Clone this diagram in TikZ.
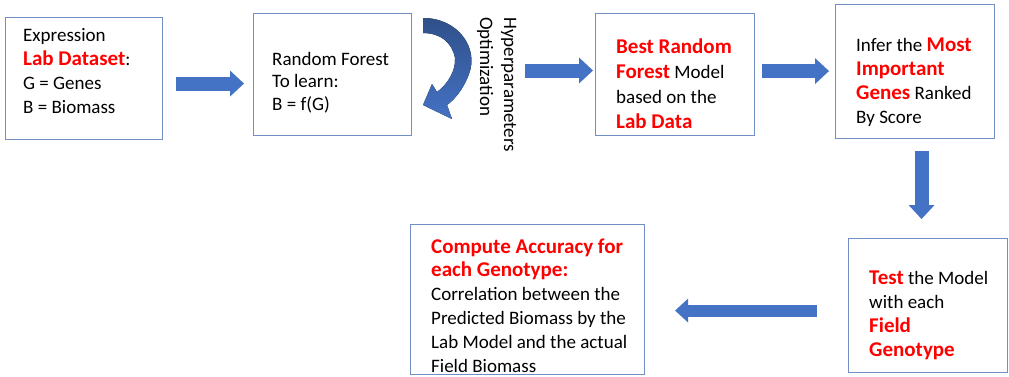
\documentclass[tikz,border=0pt]{standalone}
\usepackage{fontspec}
\setmainfont{Carlito}
\usepackage{xcolor}
\usetikzlibrary{arrows.meta, positioning, calc}
\definecolor{boxline}{RGB}{114,143,196}
\definecolor{arrowblue}{RGB}{68,114,196}
\definecolor{hlred}{RGB}{255,0,0}
\newcommand{\redbf}[1]{{\fontsize{21}{\baselineskip}\selectfont\bfseries\color{hlred}#1}}

\begin{document}
\begin{tikzpicture}[x=1pt, y=-1pt,
		box/.style={draw=boxline, line width=1.1pt, rectangle, inner sep=0pt, anchor=north west},
		boxtext/.style={align=left, inner sep=0pt, anchor=base west, font=\fontsize{19}{24}\selectfont},
		blockarr/.style={draw=arrowblue, line width=14pt, -{Triangle[width=26pt, length=14pt, line width=0pt]}}]
		
		\useasboundingbox (0,0) rectangle (1009,376);
		
		% Boxes
		\node[box, minimum width=157pt, minimum height=122pt] (lab) at (5,17) {};
		\node[box, minimum width=158pt, minimum height=122pt] (rf) at (253,13) {};
		\node[box, minimum width=159pt, minimum height=122pt] (best) at (595,13) {};
		\node[box, minimum width=159pt, minimum height=134pt] (infer) at (835,4) {};
		\node[box, minimum width=159pt, minimum height=134pt] (test) at (848,238) {};
		\node[box, minimum width=234pt, minimum height=150pt] (acc) at (410,224) {};
		
		% Texts inside the boxes (placed at the baseline of their last line)
		\node[boxtext] (labtxt) at (23,113) {Expression\\ \redbf{Lab Dataset}:\\ G = Genes\\ B = Biomass};
		\node[boxtext, font=\fontsize{19}{22.5}\selectfont] (rftxt) at (272,110) {Random Forest\\ To learn:\\ B = f(G)};
		\node[boxtext, font=\fontsize{19}{25}\selectfont] (besttxt) at (616,128) {\redbf{Best Random}\\ \redbf{Forest} Model\\ based on the\\ \redbf{Lab Data}};
		\node[boxtext] (infertxt) at (856,123) {Infer the \redbf{Most}\\ \redbf{Important}\\ \redbf{Genes} Ranked\\ By Score};
		\node[boxtext] (testtxt) at (869,356) {\redbf{Test} the Model\\ with each\\ \redbf{Field}\\ \redbf{Genotype}};
		\node[boxtext, font=\fontsize{19}{23.8}\selectfont] (acctxt) at (431,372) {\redbf{Compute Accuracy for}\\ \redbf{each Genotype:}\\ Correlation between the\\ Predicted Biomass by the\\ Lab Model and the actual\\ Field Biomass};
		
		% Optimization loop
		\fill[top color=arrowblue!70!black, bottom color=arrowblue]
		(423,18) .. controls (458,18) and (479,48) .. (469,74)
		.. controls (463,90) and (454,100) .. (447,105)
		-- (452,119) -- (423,105) -- (432,84) -- (437,92)
		.. controls (448,84) and (456,70) .. (455,58)
		.. controls (452,42) and (440,33) .. (423,33) -- cycle;
		\node[boxtext, rotate=-90] (hyper) at (480,17) {Hyperparameters\\ Optimization};
		
		% Block arrows
		\coordinate (optout) at (525,70.5);
		\draw[blockarr] ([xshift=13pt,yshift=-5pt]lab.east) -- ([xshift=-9pt,yshift=-5pt]lab.east -| rf.west);
		\draw[blockarr] (optout) -- ([xshift=-2pt]optout -| best.west);
		\draw[blockarr] ([xshift=7pt,yshift=3.5pt]best.east) -- ([xshift=-6pt,yshift=3.5pt]best.east -| infer.west);
		\draw[blockarr] ([xshift=6.5pt,yshift=-12pt]infer.south) -- ([xshift=6.5pt,yshift=19pt]infer.south |- test.north);
		\draw[blockarr, line width=12pt, -{Triangle[width=24pt, length=13pt, line width=0pt]}] ([xshift=-31pt,yshift=-5pt]test.west) -- ([xshift=30pt,yshift=-5pt]test.west -| acc.east);
		
	\end{tikzpicture}
\end{document}
